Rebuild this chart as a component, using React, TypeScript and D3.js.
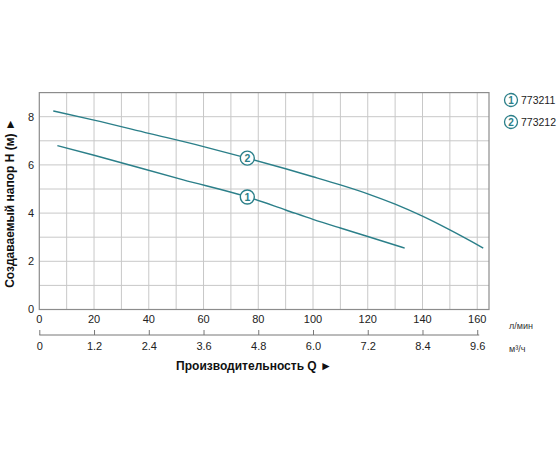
import { axisBottom, curveMonotoneX, line, range, scaleLinear, select } from "d3";

// Q, л/мин
const flow1 = [6.6, 20, 52.6, 76, 90, 100, 110, 120, 133.5];
// H, м
const head1 = [6.8, 6.4, 5.38, 4.67, 4.13, 3.74, 3.38, 3.03, 2.55];

const flow2 = [5.1, 20, 40, 60, 76, 90, 100, 110, 120, 130, 140, 150, 162.2];
const head2 = [8.24, 7.86, 7.31, 6.76, 6.28, 5.84, 5.51, 5.17, 4.8, 4.37, 3.87, 3.3, 2.55];

const series = [
  { id: "1", name: "773211", flow: flow1, head: head1, labelAt: 3 },
  { id: "2", name: "773212", flow: flow2, head: head2, labelAt: 4 },
];

const flowTicks = [0, 20, 40, 60, 80, 100, 120, 140, 160];
const headTicks = [0, 2, 4, 6, 8];
const m3Ticks = [0, 1.2, 2.4, 3.6, 4.8, 6.0, 7.2, 8.4, 9.6];

const teal = "#2b7f89";
const font = "'Liberation Sans', Arial, sans-serif";

const App = () => {
  const width = 560;
  const height = 460;
  const left = 39.3;
  const right = 489;
  const top = 92.6;
  const bottom = 309.5;

  const x = scaleLinear().domain([0, 164.3]).range([left, right]);
  const y = scaleLinear().domain([0, 9]).range([bottom, top]);
  const x2 = scaleLinear().domain([0, 9.6]).range([x(0), x(160)]);

  const gen = line<[number, number]>()
    .x((d) => x(d[0]))
    .y((d) => y(d[1]))
    .curve(curveMonotoneX);

  const lowerAxisY = 335;

  const drawLowerAxis = (node: SVGGElement | null) => {
    if (!node) return;
    const g = select(node);
    g.selectAll("*").remove();
    g.call(
      axisBottom(x2)
        .tickValues(m3Ticks)
        .tickSize(-5)
        .tickSizeOuter(0)
        .tickPadding(7)
        .tickFormat((d) => (d === 0 ? "0" : (d as number).toFixed(1)))
    );
    g.select(".domain").attr("stroke", "#777").attr("d", `M${x2(0)},0H${x2(9.6) + 2}`);
    g.selectAll(".tick line").attr("stroke", "#777");
    g.selectAll(".tick text").attr("font-size", 11).attr("fill", "#222").attr("font-family", font);
  };

  return (
    <svg
      width={width}
      height={height}
      viewBox={`0 0 ${width} ${height}`}
      style={{ position: "absolute", left: 0, top: 0, background: "#fff" }}
      fontFamily={font}
    >
      {/* grid */}
      {range(10, 164, 10).map((q) => (
        <line key={"v" + q} x1={x(q)} x2={x(q)} y1={top} y2={bottom} stroke="#c8c8c8" strokeWidth={1} />
      ))}
      {range(1, 9, 1).map((h) => (
        <line key={"h" + h} x1={left} x2={right} y1={y(h)} y2={y(h)} stroke="#c8c8c8" strokeWidth={1} />
      ))}
      <rect x={left} y={top} width={right - left} height={bottom - top} fill="none" stroke="#8c8c8c" strokeWidth={1.2} />

      {/* y labels */}
      {headTicks.map((h) => (
        <text key={"yl" + h} x={34} y={y(h)} dy="0.35em" textAnchor="end" fontSize={11} fill="#222">
          {h}
        </text>
      ))}
      {/* x labels, л/мин */}
      {flowTicks.map((q) => (
        <text key={"xl" + q} x={x(q)} y={323} textAnchor="middle" fontSize={11} fill="#222">
          {q}
        </text>
      ))}

      {/* lower axis, м³/ч */}
      <g transform={`translate(0,${lowerAxisY})`} ref={drawLowerAxis} />

      {/* units */}
      <text x={509} y={329} fontSize={9} fill="#333">л/мин</text>
      <text x={509} y={352} fontSize={9} fill="#333">м³/ч</text>

      {/* titles */}
      <text x={254} y={370} textAnchor="middle" fontSize={12} fontWeight="bold" fill="#111">
        Производительность Q ►
      </text>
      <text
        transform={`translate(14,${(top + bottom) / 2 + 2}) rotate(-90)`}
        textAnchor="middle"
        fontSize={12}
        fontWeight="bold"
        fill="#111"
      >
        Создаваемый напор H (м) ►
      </text>

      {/* curves */}
      {series.map((s) => {
        const pts = s.flow.map((q, i) => [q, s.head[i]] as [number, number]);
        const lp = pts[s.labelAt];
        return (
          <g key={s.id}>
            <path d={gen(pts) ?? ""} fill="none" stroke={teal} strokeWidth={1.4} />
            <circle cx={x(lp[0])} cy={y(lp[1])} r={7} fill="#fff" stroke={teal} strokeWidth={1.4} />
            <text x={x(lp[0])} y={y(lp[1])} dy="0.36em" textAnchor="middle" fontSize={10.5} fontWeight="bold" fill={teal}>
              {s.id}
            </text>
          </g>
        );
      })}

      {/* legend */}
      {series.map((s, i) => (
        <g key={"lg" + s.id} transform={`translate(511,${100 + i * 22})`}>
          <circle r={6.5} fill="#fff" stroke={teal} strokeWidth={1.3} />
          <text dy="0.36em" textAnchor="middle" fontSize={10} fontWeight="bold" fill={teal}>
            {s.id}
          </text>
          <text x={10} dy="0.36em" fontSize={10.5} fill="#222">
            {s.name}
          </text>
        </g>
      ))}
    </svg>
  );
};

export default App;
